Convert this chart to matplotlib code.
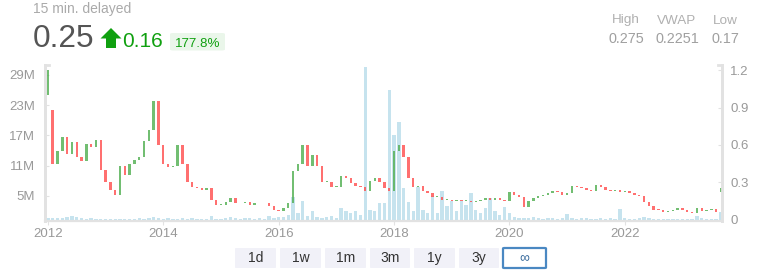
import matplotlib
matplotlib.use("Agg")
import matplotlib.pyplot as plt
import numpy as np
from matplotlib.patches import Polygon, FancyBboxPatch
from matplotlib.ticker import FuncFormatter

plt.rcParams['font.family'] = ['Liberation Sans', 'DejaVu Sans']

# monthly closes, Jan 2012 .. Sep 2023
first_open = 1.0
closes = [
    1.2, 0.45, 0.55, 0.66, 0.53, 0.62, 0.5, 0.47, 0.61, 0.58, 0.64, 0.4,
    0.3, 0.24, 0.2, 0.43, 0.36, 0.45, 0.48, 0.5, 0.63, 0.72, 0.95, 0.6,
    0.45, 0.42, 0.43, 0.6, 0.45, 0.3, 0.26, 0.25, 0.24, 0.25, 0.16, 0.12,
    0.12, 0.14, 0.17, 0.13, 0.13, 0.14, 0.12, 0.13, 0.13, 0.13, 0.11, 0.08,
    0.07, 0.09, 0.13, 0.39, 0.45, 0.6, 0.43, 0.52, 0.43, 0.3, 0.3, 0.26,
    0.26, 0.35, 0.33, 0.29, 0.27, 0.26, 0.23, 0.31, 0.33, 0.3, 0.25, 0.23,
    0.55, 0.6, 0.5, 0.33, 0.26, 0.27, 0.23, 0.21, 0.18, 0.18, 0.16, 0.16,
    0.15, 0.16, 0.15, 0.15, 0.14, 0.15, 0.16, 0.17, 0.16, 0.17, 0.16, 0.15,
    0.22, 0.2, 0.18, 0.1, 0.15, 0.17, 0.19, 0.2, 0.21, 0.23, 0.22, 0.2,
    0.21, 0.27, 0.26, 0.25, 0.24, 0.23, 0.28, 0.26, 0.24, 0.23, 0.24, 0.22,
    0.23, 0.21, 0.2, 0.19, 0.14, 0.11, 0.08, 0.075, 0.06, 0.07, 0.075, 0.09,
    0.08, 0.06, 0.05, 0.09, 0.07, 0.08, 0.085, 0.06, 0.25,
]
# months where the open gaps away from the previous close
gap_opens = {1: 0.88, 140: 0.22}

# monthly volume in millions
volumes = [
    0.5, 0.6, 0.5, 0.6, 0.8, 0.9, 0.7, 0.5, 0.4, 0.6, 0.4, 0.3,
    0.3, 0.3, 0.3, 0.3, 0.4, 0.3, 0.4, 0.5, 0.4, 0.6, 0.8, 0.5,
    0.4, 0.5, 0.3, 0.4, 0.5, 0.4, 0.6, 0.4, 0.4, 0.3, 0.9, 0.4,
    0.4, 0.6, 0.7, 0.6, 0.4, 0.5, 0.6, 0.4, 0.5, 0.4, 1.0, 0.6,
    0.7, 0.8, 1.2, 4.8, 1.5, 4.0, 1.0, 2.0, 0.8, 0.6, 0.8, 1.0,
    0.6, 2.6, 2.0, 1.5, 2.0, 1.2, 30.5, 2.2, 2.0, 3.6, 3.5, 26.0,
    17.0, 19.6, 6.5, 3.8, 2.0, 6.8, 2.2, 1.5, 5.0, 1.5, 6.0, 3.0,
    4.0, 2.0, 4.0, 3.2, 5.5, 2.2, 1.5, 2.5, 4.5, 2.0, 1.2, 2.8,
    1.5, 0.8, 0.5, 0.6, 0.5, 0.7, 0.5, 0.4, 0.5, 0.6, 0.4, 0.5,
    1.4, 0.6, 0.4, 0.5, 0.5, 0.4, 0.4, 0.5, 0.4, 0.5, 0.4, 2.4,
    0.5, 0.4, 0.4, 0.5, 0.8, 0.6, 0.4, 0.3, 0.3, 0.3, 0.4, 0.3,
    0.3, 0.4, 0.3, 1.0, 0.5, 0.4, 0.3, 0.4, 1.8,
]

year_ticks = [2012, 2014, 2016, 2018, 2020, 2022]
vol_ticks = [5, 11, 17, 23, 29]
price_ticks = [0, 0.3, 0.6, 0.9, 1.2]
buttons = ["1d", "1w", "1m", "3m", "1y", "3y", "\u221e"]

W, H = 764, 279
fig = plt.figure(figsize=(W / 100, H / 100), dpi=100)

def fx(px):
    return px / W

def fy(py):
    return 1 - py / H

ax = fig.add_axes([fx(45), fy(221), fx(722) - fx(45), fy(65) - fy(221)])
ax2 = ax.twinx()

x = 2012 + np.arange(len(closes)) / 12.0
opens = [first_open] + closes[:-1]
for i, o in gap_opens.items():
    opens[i] = o
opens = np.array(opens)
cl = np.array(closes)

# volume bars
ax.bar(x, np.array(volumes) * 1e6, width=0.7 / 12, color='#bcdfec', alpha=0.85, linewidth=0)
ax.set_ylim(0, 30.95e6)
ax.set_xlim(2011.95, 2023.685)

# candles
up = cl >= opens
bottoms = np.minimum(opens, cl)
heights = np.maximum(np.abs(cl - opens), 0.006)
ax2.bar(x[up], heights[up], bottom=bottoms[up], width=0.5 / 12, color='#4fae4f', alpha=0.8, linewidth=0)
ax2.bar(x[~up], heights[~up], bottom=bottoms[~up], width=0.5 / 12, color='#ff4c4c', alpha=0.8, linewidth=0)
ax2.set_ylim(-0.012, 1.243)

spine_c = '#e2e2e2'
for a in (ax, ax2):
    a.spines['top'].set_visible(False)
    a.spines['left'].set_color(spine_c)
    a.spines['right'].set_color(spine_c)
    a.spines['bottom'].set_color(spine_c)
    a.spines['left'].set_linewidth(2)
    a.spines['right'].set_linewidth(2)
    a.spines['bottom'].set_linewidth(1.5)

ax.set_yticks([v * 1e6 for v in vol_ticks])
ax.yaxis.set_major_formatter(FuncFormatter(lambda v, p: "%dM" % round(v / 1e6)))
ax.tick_params(axis='y', direction='in', length=3, color=spine_c, labelcolor='#999999',
               labelsize=9.5, pad=7)
ax.set_xticks(year_ticks)
ax.set_xticklabels([str(y) for y in year_ticks])
ax.tick_params(axis='x', direction='out', length=3, color=spine_c, labelcolor='#999999',
               labelsize=9.5, pad=2)

ax2.set_yticks(price_ticks)
ax2.yaxis.set_major_formatter(FuncFormatter(lambda v, p: "%g" % round(v, 2)))
ax2.tick_params(axis='y', direction='in', length=3, color=spine_c, labelcolor='#999999',
                labelsize=9.5, pad=6)

# small caps at the top of the side axes
ax.plot([0, 0.006], [1, 1], transform=ax.transAxes, color=spine_c, lw=2, clip_on=False)
ax.plot([0.994, 1], [1, 1], transform=ax.transAxes, color=spine_c, lw=2, clip_on=False)

# header
fig.text(fx(33), fy(13.5), "15 min. delayed", color='#aaaaaa', fontsize=10, va='baseline')
fig.text(fx(32.5), fy(46.7), "0.25", color='#555555', fontsize=22.8, va='baseline')
green = '#10a010'
arrow = [(111, 28), (121.5, 38.5), (116, 38.5), (116, 48), (106, 48), (106, 38.5), (100.5, 38.5)]
fig.patches.append(Polygon([(fx(a), fy(b)) for a, b in arrow], closed=True, transform=fig.transFigure,
                           color=green, lw=0))
fig.text(fx(122), fy(46.7), "0.16", color=green, fontsize=15, va='baseline')
fig.patches.append(FancyBboxPatch((fx(170), fy(50.5)), fx(55), fy(33) - fy(50.5),
                                  boxstyle="round,pad=0,rounding_size=0.004",
                                  transform=fig.transFigure, color='#eaf6ea', lw=0))
fig.text(fx(197.5), fy(46.7), "177.8%", color=green, fontsize=9.6, va='baseline', ha='center')

for cx, lab, val in [(626, "High", "0.275"), (677, "VWAP", "0.2251"), (725, "Low", "0.17")]:
    fig.text(fx(cx), fy(23.5), lab, color='#b0b0b0', fontsize=9.7, ha='center', va='baseline')
    fig.text(fx(cx), fy(43.3), val, color='#a0a0a0', fontsize=10.4, ha='center', va='baseline')

# range buttons
bx = [(235, 276), (280, 321), (325, 366), (370, 410), (414, 455), (459, 499), (503, 546)]
for (x0, x1), lab in zip(bx, buttons):
    active = lab == "\u221e"
    fig.patches.append(FancyBboxPatch((fx(x0), fy(268)), fx(x1 - x0), fy(248) - fy(268),
                                      boxstyle="round,pad=0,rounding_size=0.002",
                                      transform=fig.transFigure,
                                      facecolor='white' if active else '#f1f1f8',
                                      edgecolor='#4a88c2' if active else 'none',
                                      lw=1.6 if active else 0))
    fig.text(fx((x0 + x1) / 2), fy(258), lab, color='#336699' if active else '#333333',
             fontsize=10, ha='center', va='center')

fig.savefig("out.png", dpi=100)
